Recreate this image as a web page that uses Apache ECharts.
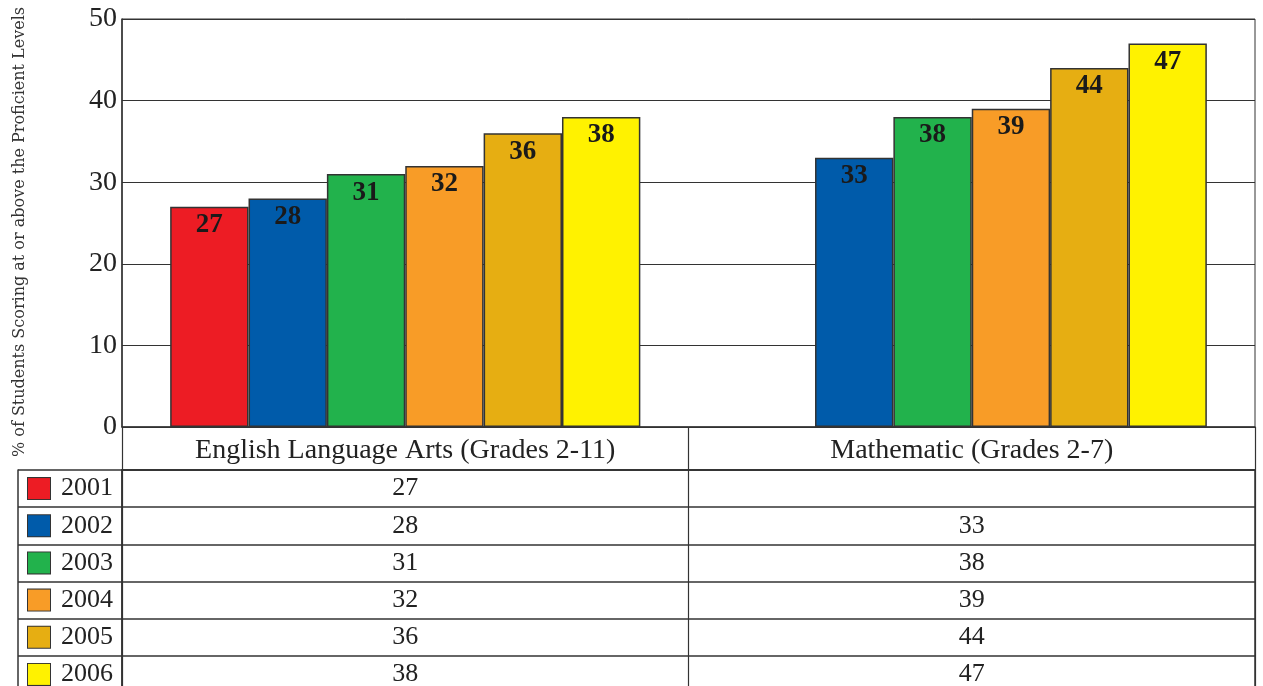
<!DOCTYPE html>
<html>
<head>
<meta charset="utf-8">
<script src="https://cdn.jsdelivr.net/npm/echarts@6/dist/echarts.min.js"></script>
<style>
  html, body { margin: 0; padding: 0; background: #fff; }
  #chart { width: 1263px; height: 686px; }
</style>
</head>
<body>
<div id="chart"></div>
<script>
const years    = ['2001', '2002', '2003', '2004', '2005', '2006'];
const subjects = ['English Language Arts (Grades 2-11)', 'Mathematic (Grades 2-7)'];
const ela      = [27, 28, 31, 32, 36, 38];
const math     = [null, 33, 38, 39, 44, 47];
const colors   = ['#ED1C24', '#005BAA', '#22B24C', '#F89C27', '#E6AE12', '#FFF200'];
const yTicks   = [0, 10, 20, 30, 40, 50];

const serif    = '"Liberation Serif", "DejaVu Serif", serif';
const wide     = '"DejaVu Serif", "Liberation Serif", serif';
const lineCol  = '#333';

const chart = echarts.init(document.getElementById('chart'));

// rich styles for the colour boxes in the table legend column
const rich = { t: { fontFamily: serif, fontSize: 26, color: '#222', padding: [0, 0, 0, 11] } };
colors.forEach((c, i) => {
    rich['c' + i] = { width: 22, height: 21, backgroundColor: c, borderColor: '#333', borderWidth: 1 };
});

const barSeries = years.map((y, i) => ({
    name: y,
    type: 'bar',
    xAxisIndex: 0,
    yAxisIndex: 0,
    data: [ela[i], math[i]],
    barGap: 0,
    barCategoryGap: '17%',
    itemStyle: { color: colors[i], borderColor: '#333', borderWidth: 1.5 },
    label: {
        show: true,
        position: 'insideTop',
        distance: 5,
        fontFamily: serif,
        fontWeight: 'bold',
        fontSize: 27,
        color: '#1a1a1a',
        formatter: p => p.value == null ? '' : Math.round(p.value)
    }
}));

// table values
const cells = [];
years.forEach((y, i) => {
    if (ela[i] != null)  cells.push([0, i, ela[i]]);
    if (math[i] != null) cells.push([1, i, math[i]]);
});

const option = {
    backgroundColor: '#fff',
    animation: false,
    grid: [
        { left: 122, right: 8, top: 19, bottom: 259, outerBoundsMode: 'none', show: true, borderColor: lineCol, borderWidth: 1, containLabel: false },
        { left: 122, right: 8, top: 470, bottom: -7, outerBoundsMode: 'none', show: true, borderColor: lineCol, borderWidth: 1.5, containLabel: false }
    ],
    xAxis: [
        {
            type: 'category',
            gridIndex: 0,
            data: subjects,
            axisLine: { show: true, lineStyle: { color: lineCol, width: 1.5 } },
            axisTick: { show: true, length: 43, interval: 0, lineStyle: { color: lineCol, width: 1.2 } },
            axisLabel: { interval: 0, margin: 10, fontFamily: serif, fontSize: 28, color: '#222' }
        },
        {
            type: 'category',
            gridIndex: 1,
            position: 'top',
            data: subjects,
            axisLine: { show: true, lineStyle: { color: lineCol, width: 1.5 } },
            axisTick: { show: false },
            axisLabel: { show: false },
            splitLine: { show: true, interval: 0, lineStyle: { color: lineCol, width: 1.2 } }
        }
    ],
    yAxis: [
        {
            type: 'value',
            gridIndex: 0,
            min: 0,
            max: 50,
            interval: 10,
            name: '% of Students Scoring at or above the Proficient Levels',
            nameLocation: 'middle',
            nameGap: 94,
            nameTextStyle: { fontFamily: wide, fontSize: 16, color: '#333', padding: [0, 18, 0, 0] },
            axisLine: { show: true, lineStyle: { color: lineCol, width: 1.5 } },
            axisTick: { show: false },
            axisLabel: {
                margin: 5,
                fontFamily: serif,
                fontSize: 28,
                color: '#222',
                formatter: v => yTicks.includes(v) ? String(v) : ''
            },
            splitLine: { show: true, lineStyle: { color: lineCol, width: 1.2 } }
        },
        {
            type: 'category',
            gridIndex: 1,
            inverse: true,
            data: years,
            axisLine: { show: true, lineStyle: { color: lineCol, width: 1.5 } },
            axisTick: { show: true, length: 104, interval: 0, lineStyle: { color: lineCol, width: 1.5 } },
            axisLabel: {
                interval: 0,
                margin: 9,
                align: 'right',
                formatter: (v, i) => '{c' + i + '|}{t|' + v + '}',
                rich: rich
            },
            splitLine: { show: true, interval: 0, lineStyle: { color: lineCol, width: 1.5 } }
        },
        {
            // left border of the legend column
            type: 'category',
            gridIndex: 1,
            inverse: true,
            data: years,
            position: 'left',
            offset: 104,
            axisLine: { show: true, lineStyle: { color: lineCol, width: 1.5 } },
            axisTick: { show: false },
            axisLabel: { show: false }
        }
    ],
    series: barSeries.concat([{
        type: 'scatter',
        xAxisIndex: 1,
        yAxisIndex: 1,
        data: cells,
        symbolSize: 1,
        itemStyle: { color: 'rgba(0,0,0,0)', opacity: 1 },
        label: {
            show: true,
            position: 'inside',
            fontFamily: serif,
            fontSize: 26,
            color: '#222',
            formatter: p => String(p.value[2])
        }
    }])
};

chart.setOption(option);
window.addEventListener('resize', chart.resize);
</script>
</body>
</html>
